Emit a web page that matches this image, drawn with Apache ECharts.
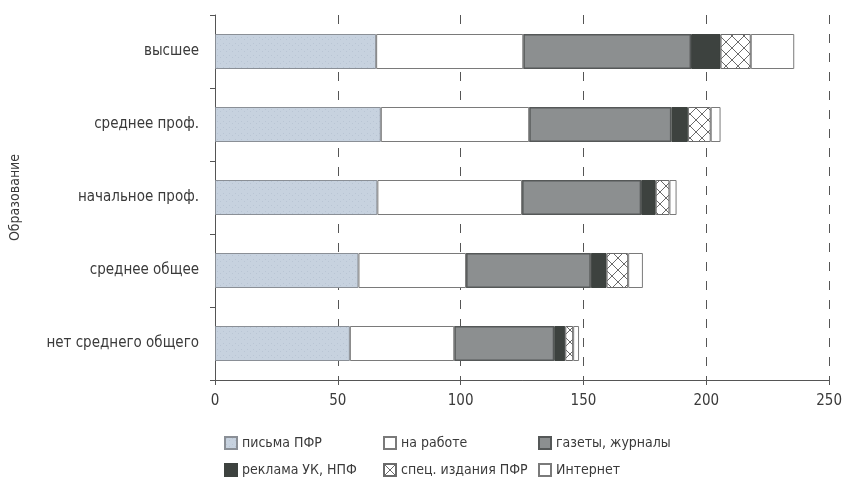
<!DOCTYPE html>
<html><head><meta charset="utf-8">
<script src="https://cdn.jsdelivr.net/npm/echarts@6/dist/echarts.min.js"></script>
<style>html,body{margin:0;padding:0;background:#fff}#c{width:845px;height:494px}</style>
</head><body><div id="c"></div>
<script>
const categories = ['высшее','среднее проф.','начальное проф.','среднее общее','нет среднего общего'];
const seriesNames = ['письма ПФР','на работе','газеты, журналы','реклама УК, НПФ','спец. издания ПФР','Интернет'];
const pisma    = [65.6, 67.5, 66.1, 58.4, 54.9];
const rabota   = [59.9, 60.4, 58.9, 43.8, 42.5];
const gazety   = [68.3, 57.9, 48.5, 50.8, 40.7];
const reklama  = [12.0, 6.7, 5.9, 6.4, 4.5];
const spec     = [12.3, 9.3, 5.6, 8.8, 3.2];
const internet = [17.7, 4.0, 2.9, 6.0, 2.4];
const xTicks = [0, 50, 100, 150, 200, 250];

const FONT = "'Liberation Sans Narrow','Arial Narrow','DejaVu Sans Condensed',sans-serif";

function hatch(){
  const c = document.createElement('canvas'); c.width = 12; c.height = 12;
  const g = c.getContext('2d');
  g.fillStyle = '#fff'; g.fillRect(0,0,12,12);
  g.strokeStyle = '#6a6a6a'; g.lineWidth = 1;
  g.beginPath(); g.moveTo(0,0); g.lineTo(12,12); g.moveTo(12,0); g.lineTo(0,12); g.stroke();
  return c;
}
function stipple(){
  const c = document.createElement('canvas'); c.width = 6; c.height = 6;
  const g = c.getContext('2d');
  g.fillStyle = '#c7d2df'; g.fillRect(0,0,6,6);
  g.fillStyle = '#b9c5d4'; g.fillRect(1,1,1,1); g.fillRect(4,3,1,1);
  return c;
}
const styles = [
  {color:{image:stipple(),repeat:'repeat'}, borderColor:'#8a8f96', borderWidth:1},
  {color:'#ffffff', borderColor:'#7a7a7a', borderWidth:1},
  {color:'#8c8f90', borderColor:'#555858', borderWidth:1.5},
  {color:'#3d423f', borderColor:'#3d423f', borderWidth:1},
  {color:{image:hatch(),repeat:'repeat'}, borderColor:'#6a6a6a', borderWidth:1},
  {color:'#ffffff', borderColor:'#7a7a7a', borderWidth:1}
];
const dataArr = [pisma, rabota, gazety, reklama, spec, internet];

const chart = echarts.init(document.getElementById('c'));
const legendText = {fontFamily: FONT, fontSize: 14, color: '#3a3a3a'};
function legendCol(names, left){
  return {orient:'vertical', left:left, top:436, itemWidth:12, itemHeight:12, itemGap:13,
    icon:'rect', textStyle:legendText, data:names, selectedMode:false, padding:0};
}
chart.setOption({
  animation:false,
  backgroundColor:'#fff',
  grid:{left:213, right:14, top:15, bottom:114, containLabel:false},
  legend:[
    legendCol(['письма ПФР','реклама УК, НПФ'], 224),
    legendCol(['на работе','спец. издания ПФР'], 383),
    legendCol(['газеты, журналы','Интернет'], 538)
  ],
  xAxis:{type:'value', min:0, max:250, interval:50,
    axisLine:{show:true, lineStyle:{color:'#555'}},
    axisTick:{show:true, length:5, lineStyle:{color:'#555'}},
    axisLabel:{fontFamily:FONT, fontSize:15, color:'#3a3a3a', margin:14,
      formatter:v => xTicks.includes(v) ? String(v) : ''},
    splitLine:{show:true, lineStyle:{color:'#555', type:[9,10], width:1}}
  },
  yAxis:{type:'category', data:categories, inverse:true,
    name:'Образование', nameLocation:'middle', nameRotate:90, nameGap:193,
    nameTextStyle:{fontFamily:FONT, fontSize:14, color:'#3a3a3a'},
    axisLine:{show:true, lineStyle:{color:'#555'}},
    axisTick:{show:true, length:5, lineStyle:{color:'#555'}},
    axisLabel:{fontFamily:FONT, fontSize:15, color:'#3a3a3a', margin:16}
  },
  series: seriesNames.map((n,i)=>({
    name:n, type:'bar', stack:'t', barWidth:35, data:dataArr[i], itemStyle:styles[i]
  }))
});
</script></body></html>
